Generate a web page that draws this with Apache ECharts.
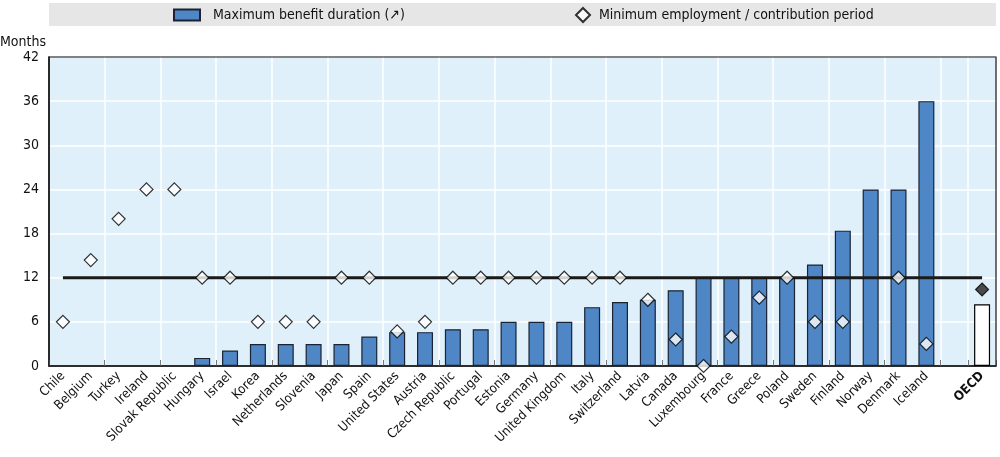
<!DOCTYPE html>
<html><head><meta charset="utf-8">
<script src="https://cdn.jsdelivr.net/npm/echarts@6/dist/echarts.min.js"></script>
<style>html,body{margin:0;padding:0;background:#fff}#c{width:1000px;height:457px}</style>
</head><body><div id="c"></div>
<script>
const categories = ["Chile","Belgium","Turkey","Ireland","Slovak Republic","Hungary","Israel","Korea","Netherlands","Slovenia","Japan","Spain","United States","Austria","Czech Republic","Portugal","Estonia","Germany","United Kingdom","Italy","Switzerland","Latvia","Canada","Luxembourg","France","Greece","Poland","Sweden","Finland","Norway","Denmark","Iceland","","OECD"];
const maxDuration = [null,null,null,null,null,1.1,2.1,3,3,3,3,4,4.6,4.6,5,5,6,6,6,8,8.7,9,10.3,12,12,12,12,13.8,18.4,24,24,36,null,8.4];
const minPeriod = [6,14.4,20,24,24,12,12,6,6,6,12,12,4.7,6,12,12,12,12,12,12,12,9,3.6,0,4,9.3,12,6,6,null,12,3,null,10.4];
const refLine = categories.map(() => 12);
const yTicks = [0,6,12,18,24,30,36,42];

const FONT = "'Liberation Sans Narrow','DejaVu Sans Condensed','Arial Narrow',sans-serif";
const chart = echarts.init(document.getElementById('c'), null, {renderer:'canvas'});
const blue = '#4f86c6';
const S1 = 'Maximum benefit duration (↗)';
const S2 = 'Minimum employment / contribution period';
chart.setOption({
  animation:false,
  textStyle:{fontFamily:FONT},
  graphic:[
    {type:'rect', shape:{x:49,y:3,width:947,height:23}, style:{fill:'#e6e6e6'}, z:-1},
    {type:'text', left:0, top:35, style:{text:'Months', font:'14px '+FONT, fill:'#111'}},
    {type:'rect', shape:{x:49,y:57,width:947,height:309}, style:{fill:'none', stroke:'#222', lineWidth:1.2}, z:1}
  ],
  legend:[
    {top:8, left:173, itemWidth:26, itemHeight:11, padding:0,
      textStyle:{fontSize:14, color:'#111', fontFamily:FONT, padding:[0,0,0,8]},
      data:[{name:S1, icon:'rect'}]},
    {top:7, left:575, itemWidth:14, itemHeight:14, padding:0,
      textStyle:{fontSize:14, color:'#111', fontFamily:FONT, padding:[0,0,0,4]},
      data:[{name:S2, icon:'diamond'}]}
  ],
  grid:{left:49, right:4, top:57, bottom:91, show:true, backgroundColor:'#dff0fb', borderColor:'#222', borderWidth:1},
  xAxis:{
    type:'category', data:categories, boundaryGap:true,
    axisLine:{lineStyle:{color:'#000', width:1.5}},
    axisTick:{show:true, interval:1, inside:true, length:6, lineStyle:{color:'#777'}},
    splitLine:{show:true, interval:1, lineStyle:{color:'#fff', width:1.5}},
    axisLabel:{interval:0, rotate:45, fontSize:13, color:'#111', margin:8, fontFamily:FONT,
      formatter:(v)=> v==='OECD' ? '{b|OECD}' : v,
      rich:{b:{fontWeight:'bold', fontSize:13, fontFamily:FONT}}}
  },
  yAxis:{
    type:'value', min:0, max:42, interval:6,
    axisLine:{show:true, lineStyle:{color:'#000', width:1.5}},
    axisTick:{show:false},
    splitLine:{lineStyle:{color:'#fff', width:1.5}},
    axisLabel:{fontSize:14, color:'#111', margin:10, fontFamily:FONT,
      formatter:(v)=> yTicks.includes(v) ? String(v) : ''}
  },
  series:[
    {name:S1, type:'bar', barWidth:16, z:2,
      itemStyle:{color:blue, borderColor:'#1a2233', borderWidth:1.2},
      data:maxDuration.map((v,i)=> categories[i]==='OECD' ? {value:v, itemStyle:{color:'#fff', borderColor:'#000', borderWidth:1.2}} : v)},
    {name:'ref', type:'line', data:refLine, symbol:'none', z:3,
      lineStyle:{color:'#1a1a1a', width:3}, silent:true},
    {name:S2, type:'scatter', symbol:'diamond', symbolSize:13, z:4,
      itemStyle:{color:'#fff', borderColor:'#000', borderWidth:1.2},
      data:minPeriod.map((v,i)=> categories[i]==='OECD' ? {value:v, itemStyle:{color:'#222', borderColor:'#000'}} : v)}
  ]
});
</script></body></html>
